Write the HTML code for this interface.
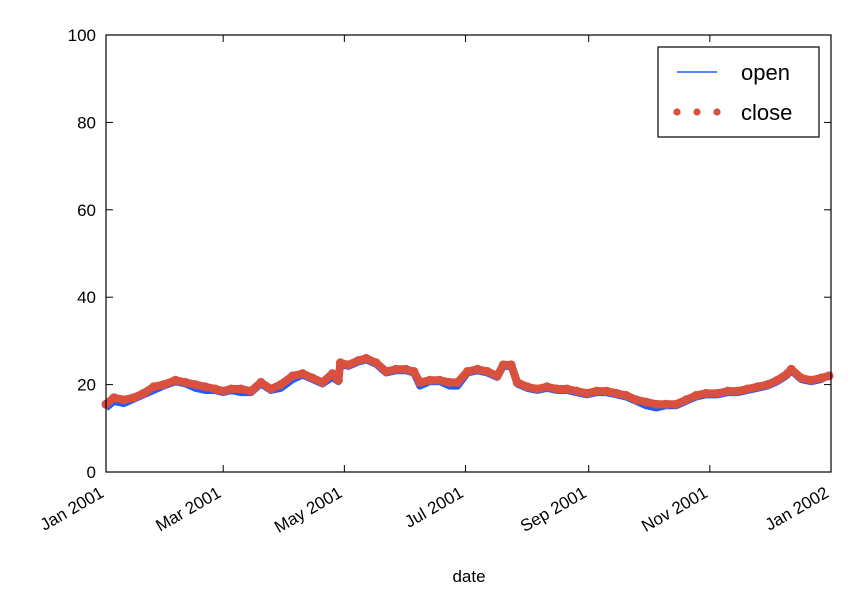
<!DOCTYPE html>
<html><head><meta charset="utf-8"><style>
body{margin:0;background:#fff;}
svg text{font-family:"Liberation Sans","DejaVu Sans",sans-serif;fill:#000;}
</style></head><body>
<svg width="858" height="596" id="chart">
<rect width="858" height="596" fill="#fff"/>
<g id="marks"></g>
<g id="axes"></g>
</svg>
<script>
const days=[0,4,9,14,19,24,29,35,40,45,50,55,59,63,68,73,78,83,88,94,99,104,109,114,117,118,122,127,131,136,141,146,151,155,158,163,168,173,177,182,187,192,197,200,204,207,212,217,222,227,232,237,242,247,252,257,262,267,272,277,282,287,292,297,302,308,313,318,323,328,333,338,343,345,350,355,360,364];
const openVals=[15,16.5,16,17,18,19,20,21,20.5,19.5,19,19,18.5,19,18.5,18.5,20.5,19,19.5,21.5,22.5,21.5,20.5,22,21,25,24.5,25.5,26,25,23,23.5,23.5,23,20,21,21,20,20,23,23.5,23,22,24.5,24.5,20.5,19.5,19,19.5,19,19,18.5,18,18.5,18.5,18,17.5,16.5,15.5,15,15.5,15.5,16.5,17.5,18,18,18.5,18.5,19,19.5,20,21,22.5,23.5,21.5,21,21.5,22.5];
const closeVals=[15.5,17,16.5,17,18,19.5,20,21,20.5,20,19.5,19,18.5,19,19,18.5,20.5,19,20,22,22.5,21.5,20.5,22.5,21,25,24.5,25.5,26,25,23,23.5,23.5,23,20.5,21,21,20.5,20.5,23,23.5,23,22,24.5,24.5,20.5,19.5,19,19.5,19,19,18.5,18,18.5,18.5,18,17.5,16.5,16,15.5,15.5,15.5,16.5,17.5,18,18,18.5,18.5,19,19.5,20,21,22.5,23.5,21.5,21,21.5,22];
const yTicks=[0,20,40,60,80,100];
const xTickDays=[0,59,120,181,243,304,365];
const xTickLabels=["Jan 2001","Mar 2001","May 2001","Jul 2001","Sep 2001","Nov 2001","Jan 2002"];
const L=106,R=831,T=35,B=472;
const xs=d=>L+d/365*(R-L);
const ys=v=>B-v/100*(B-T);
const NS="http://www.w3.org/2000/svg";
const marks=document.getElementById('marks'),axes=document.getElementById('axes');
function mk(tag,attrs,parent){const e=document.createElementNS(NS,tag);for(const k in attrs)e.setAttribute(k,attrs[k]);parent.appendChild(e);return e;}
const op=mk('polyline',{points:days.map((d,i)=>xs(d)+','+(ys(openVals[i])+1.5)).join(' '),fill:'none',stroke:'#1f5cff','stroke-width':7,'stroke-linejoin':'round'},marks);


const band=mk('polyline',{points:days.map((d,i)=>xs(d)+','+ys(closeVals[i])).join(' '),fill:'none',stroke:'#d9503f','stroke-width':8,'stroke-linejoin':'round','stroke-linecap':'round'},marks);


days.forEach((d,i)=>{const c=mk('circle',{cx:xs(d),cy:ys(closeVals[i]),r:4.5,fill:'#d9503f'},marks);

});
const fr=mk('rect',{x:L,y:T,width:R-L,height:B-T,fill:'none',stroke:'#000','stroke-width':1.2},axes);


yTicks.forEach(v=>{const y=ys(v);
mk('line',{x1:L,x2:L+7,y1:y,y2:y,stroke:'#000'},axes);
mk('line',{x1:R-7,x2:R,y1:y,y2:y,stroke:'#000'},axes);
const t=mk('text',{x:L-10,y:y+6,'text-anchor':'end','font-size':17},axes);t.textContent=v;

});
xTickDays.forEach((d,i)=>{const x=xs(d);
mk('line',{x1:x,x2:x,y1:B,y2:B-7,stroke:'#000'},axes);
mk('line',{x1:x,x2:x,y1:T,y2:T+7,stroke:'#000'},axes);
const ax=x-1,ay=B+24;
const t=mk('text',{x:ax,y:ay,'text-anchor':'end','font-size':17,transform:`rotate(-30 ${ax} ${ay})`},axes);t.textContent=xTickLabels[i];

});
const xt=mk('text',{x:469,y:582,'text-anchor':'middle','font-size':17},axes);xt.textContent='date';


const lg=mk('g',{},axes);


mk('rect',{x:658,y:47,width:161,height:90,fill:'#fff',stroke:'#000','stroke-width':1.2},lg);
mk('line',{x1:677,x2:717,y1:72,y2:72,stroke:'#1f5cff','stroke-width':1.5},lg);
[677,697,717].forEach(x=>mk('circle',{cx:x,cy:112,r:3.6,fill:'#d9503f'},lg));
const t1=mk('text',{x:741,y:80,'font-size':22},lg);t1.textContent='open';


const t2=mk('text',{x:741,y:120,'font-size':22},lg);t2.textContent='close';


</script>
</body></html>
